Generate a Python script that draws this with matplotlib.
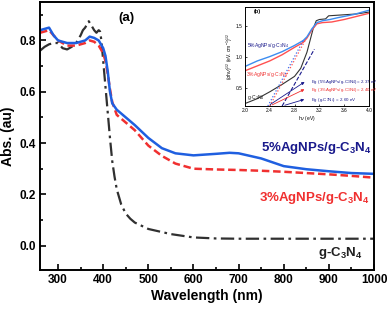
import matplotlib
matplotlib.use("Agg")
import matplotlib.pyplot as plt
import numpy as np
from matplotlib.ticker import MultipleLocator

plt.rcParams['font.family'] = ['Liberation Sans', 'DejaVu Sans']
plt.rcParams['mathtext.fontset'] = 'custom'
plt.rcParams['mathtext.rm'] = 'Liberation Sans'
plt.rcParams['mathtext.bf'] = 'Liberation Sans:bold'

# ---- main panel (a) data ----
wl_ag5 = [260, 270, 280, 290, 300, 310, 320, 330, 340, 350, 360, 370, 380, 390, 400, 405, 410, 415, 420, 430, 440,
          450, 470, 500, 530, 560, 600, 650, 680, 700, 750, 800, 850, 900, 950, 1000]
abs_ag5 = [0.84, 0.845, 0.85, 0.82, 0.80, 0.795, 0.79, 0.79, 0.79, 0.795, 0.80, 0.815, 0.81, 0.80, 0.77, 0.74, 0.68,
           0.60, 0.555, 0.53, 0.515, 0.50, 0.47, 0.42, 0.38, 0.36, 0.352, 0.358, 0.362, 0.36, 0.34, 0.31, 0.298,
           0.29, 0.283, 0.28]

wl_ag3 = [260, 270, 280, 290, 300, 310, 320, 330, 340, 350, 360, 370, 380, 390, 400, 405, 410, 415, 420, 430, 440,
          450, 470, 500, 530, 560, 600, 650, 700, 750, 800, 850, 900, 950, 1000]
abs_ag3 = [0.83, 0.835, 0.84, 0.82, 0.80, 0.79, 0.78, 0.78, 0.78, 0.785, 0.79, 0.80, 0.795, 0.78, 0.75, 0.72, 0.67,
           0.61, 0.56, 0.51, 0.495, 0.48, 0.45, 0.39, 0.35, 0.32, 0.30, 0.297, 0.295, 0.292, 0.288, 0.283, 0.278,
           0.272, 0.265]

wl_gcn = [260, 270, 280, 290, 300, 310, 320, 330, 340, 350, 355, 360, 368, 375, 380, 385, 390, 393, 396, 400, 405,
          410, 415, 420, 425, 430, 440, 450, 460, 470, 500, 550, 600, 650, 700, 800, 900, 1000]
abs_gcn = [0.76, 0.775, 0.785, 0.79, 0.79, 0.77, 0.765, 0.775, 0.79, 0.82, 0.84, 0.85, 0.875, 0.855, 0.84, 0.83,
           0.84, 0.835, 0.80, 0.72, 0.62, 0.52, 0.42, 0.33, 0.27, 0.22, 0.16, 0.125, 0.105, 0.09, 0.065, 0.045,
           0.032, 0.028, 0.027, 0.027, 0.027, 0.027]

x_ticks = [300, 400, 500, 600, 700, 800, 900, 1000]
y_ticks = [0.0, 0.2, 0.4, 0.6, 0.8]

# ---- inset panel (b) data ----
hv_ag5 = [2.0, 2.2, 2.4, 2.6, 2.8, 2.94, 3.0, 3.08, 3.16, 3.25, 3.37, 3.5, 3.75, 4.0]
tauc_ag5 = [0.84, 0.93, 1.0, 1.08, 1.18, 1.26, 1.32, 1.45, 1.55, 1.58, 1.60, 1.63, 1.68, 1.75]
hv_ag3 = [2.0, 2.2, 2.4, 2.6, 2.8, 2.94, 3.0, 3.08, 3.16, 3.25, 3.4, 3.6, 3.8, 4.0]
tauc_ag3 = [0.77, 0.85, 0.93, 1.03, 1.15, 1.23, 1.30, 1.43, 1.53, 1.55, 1.56, 1.60, 1.65, 1.70]
hv_gcn = [2.0, 2.2, 2.4, 2.6, 2.8, 2.9, 3.0, 3.1, 3.15, 3.2, 3.3, 3.35, 3.5, 3.8, 4.0]
tauc_gcn = [0.24, 0.32, 0.43, 0.55, 0.68, 0.81, 1.07, 1.45, 1.58, 1.60, 1.61, 1.66, 1.67, 1.69, 1.72]

eg_vals = [2.37, 2.40, 2.60]
inset_x_ticks = [2.0, 2.4, 2.8, 3.2, 3.6, 4.0]
inset_y_ticks = [0.5, 1.0, 1.5]

blue = '#1f5fe0'
red = '#f03030'
navy = '#1a1a8c'
dark = '#303030'

fig = plt.figure(figsize=(3.9, 3.11), dpi=100)
ax = fig.add_axes([0.1026, 0.1318, 0.959 - 0.1026, 0.9936 - 0.1318])

ax.plot(wl_gcn, abs_gcn, color=dark, lw=1.6, ls=(0, (6, 2, 1.2, 2)))
ax.plot(wl_ag3, abs_ag3, color=red, lw=1.8, ls=(0, (3, 1.5)))
ax.plot(wl_ag5, abs_ag5, color=blue, lw=1.8)

ax.set_xlim(260, 1000)
ax.set_ylim(-0.095, 0.95)
ax.set_xticks(x_ticks)
ax.set_yticks(y_ticks)
ax.set_yticklabels([f"{v:.1f}" for v in y_ticks])
ax.xaxis.set_minor_locator(MultipleLocator(50))
ax.yaxis.set_minor_locator(MultipleLocator(0.1))
ax.tick_params(which='both', direction='in', top=False, right=False, labelsize=8.5, width=1.2, pad=3)
ax.tick_params(which='major', length=4)
ax.tick_params(which='minor', length=2.5)
for lab in ax.get_xticklabels() + ax.get_yticklabels():
    lab.set_fontweight('bold')
for sp in ax.spines.values():
    sp.set_linewidth(1.4)
ax.set_xlabel('Wavelength (nm)', fontsize=10, fontweight='bold', labelpad=2)
ax.set_ylabel('Abs. (au)', fontsize=10, fontweight='bold', labelpad=3)

ax.text(452, 0.888, '(a)', fontsize=9.5, fontweight='bold', ha='center', va='center')
ax.text(995, 0.38, r'5%AgNPs/g-C$_\mathbf{3}$N$_\mathbf{4}$', color=navy, fontsize=9.5, fontweight='bold',
        ha='right', va='center')
ax.text(990, 0.186, r'3%AgNPs/g-C$_\mathbf{3}$N$_\mathbf{4}$', color=red, fontsize=9.5, fontweight='bold',
        ha='right', va='center')
ax.text(975, -0.03, r'g-C$_\mathbf{3}$N$_\mathbf{4}$', color='#202020', fontsize=9.5, fontweight='bold',
        ha='right', va='center')

# ---- inset ----
ins = fig.add_axes([0.628, 0.659, 0.946 - 0.628, 0.977 - 0.659])
ins.set_facecolor('white')
ins.plot(hv_gcn, tauc_gcn, color='#333333', lw=0.8)
ins.plot(hv_ag3, tauc_ag3, color='#ff5050', lw=1.0)
ins.plot(hv_ag5, tauc_ag5, color='#3c8cf0', lw=1.0)

# tangent (extrapolation) lines, from the band-gap intercepts
ins.plot([eg_vals[0], 2.94], [0.2, 1.26], color='#3c6cf0', lw=0.9, ls=':')
ins.plot([eg_vals[1], 2.97], [0.2, 1.26], color='#ff5050', lw=0.9, ls=':')
ins.plot([eg_vals[2], 3.12], [0.2, 1.12], color=navy, lw=0.8, ls='--')

ins.set_xlim(2.0, 4.0)
ins.set_ylim(0.2, 1.8)
ins.set_xticks(inset_x_ticks)
ins.set_yticks(inset_y_ticks)
ins.tick_params(direction='in', labelsize=3.5, length=1.5, width=0.5, pad=1.5)
for sp in ins.spines.values():
    sp.set_linewidth(0.7)
ins.set_xlabel(r'h$\nu$ (eV)', fontsize=3.5, labelpad=0.5)
ins.set_ylabel(r'($\alpha$h$\nu$)$^{1/2}$ (eV. cm$^{-1}$)$^{1/2}$', fontsize=3.5, labelpad=0.5)

ins.text(2.15, 1.7, '(b)', fontsize=4, fontweight='bold')
ins.text(2.03, 1.18, r'5%AgNPs/g-C$_3$N$_4$', fontsize=3.6, color=navy, va='center')
ins.text(2.01, 0.71, r'3%AgNPs/g-C$_3$N$_4$', fontsize=3.6, color=red, va='center')
ins.text(2.04, 0.34, r'g-C$_3$N$_4$', fontsize=3.6, color='#202020', va='center')

eg_labels = [r'Eg (5%AgNPs/g-C$_3$N$_4$) = 2.37 eV', r'Eg (3%AgNPs/g-C$_3$N$_4$) = 2.40 eV',
             r'Eg (g-C$_3$N$_4$) = 2.60 eV']
eg_colors = [navy, red, navy]
eg_text_y = [0.585, 0.46, 0.29]
for val, lab, col, ty in zip(eg_vals, eg_labels, eg_colors, eg_text_y):
    ins.annotate('', xy=(3.0, ty + 0.03), xytext=(val, 0.2),
                 arrowprops=dict(arrowstyle='-|>', color=col, lw=0.6, mutation_scale=4))
    ins.text(3.07, ty, lab, fontsize=3.2, color=col, va='center')

fig.savefig('out.png', dpi=100)
